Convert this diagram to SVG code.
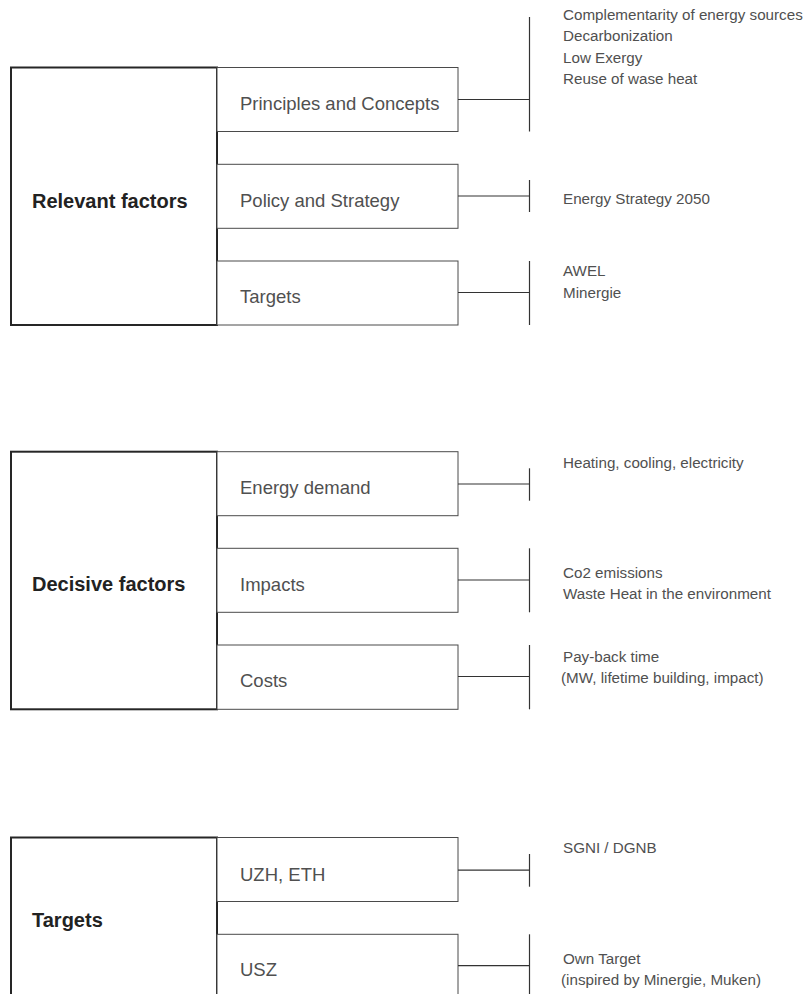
<svg xmlns="http://www.w3.org/2000/svg" width="811" height="994" viewBox="0 0 811 994">
<style>
.main{fill:#fff;stroke:#262626;stroke-width:2}
.sub{fill:#fff;stroke:#4a4a4a;stroke-width:1}
.conn line{stroke:#333;stroke-width:1.2}
.h{font-family:"Liberation Sans",Arial,sans-serif;font-weight:bold;font-size:20px;fill:#222}
.lbl{font-family:"Liberation Sans",Arial,sans-serif;font-size:18.5px;fill:#505050}
.note{font-family:"Liberation Sans",Arial,sans-serif;font-size:15.2px;fill:#505050}
</style>
<rect width="811" height="994" fill="#fff"/>

<!-- Section 1 -->
<g id="relevant-factors"><rect class="main" x="11" y="67.5" width="206" height="257.5"/><text class="h" x="32" y="207.7">Relevant factors</text></g>
<g id="principles"><rect class="sub" x="217" y="67.5" width="241" height="64"/><text class="lbl" x="240" y="110">Principles and Concepts</text></g>
<g id="policy"><rect class="sub" x="217" y="164.3" width="241" height="64"/><text class="lbl" x="240" y="206.5">Policy and Strategy</text></g>
<g id="targets1"><rect class="sub" x="217" y="261" width="241" height="64"/><text class="lbl" x="240" y="303">Targets</text></g>
<g id="principles-notes" class="note"><text x="563" y="19.5">Complementarity of energy sources</text><text x="563" y="41">Decarbonization</text><text x="563" y="62.5">Low Exergy</text><text x="563" y="84">Reuse of wase heat</text></g>
<g id="policy-notes" class="note"><text x="563" y="204.3">Energy Strategy 2050</text></g>
<g id="targets1-notes" class="note"><text x="563" y="276">AWEL</text><text x="563" y="297.7">Minergie</text></g>

<!-- Section 2 -->
<g id="decisive-factors"><rect class="main" x="11" y="451.7" width="206" height="257.6"/><text class="h" x="32" y="591">Decisive factors</text></g>
<g id="energy-demand"><rect class="sub" x="217" y="451.7" width="241" height="64"/><text class="lbl" x="240" y="494">Energy demand</text></g>
<g id="impacts"><rect class="sub" x="217" y="548.3" width="241" height="64"/><text class="lbl" x="240" y="590.8">Impacts</text></g>
<g id="costs"><rect class="sub" x="217" y="645" width="241" height="64.3"/><text class="lbl" x="240" y="687.3">Costs</text></g>
<g id="energy-demand-notes" class="note"><text x="563" y="468.3">Heating, cooling, electricity</text></g>
<g id="impacts-notes" class="note"><text x="563" y="577.7">Co2 emissions</text><text x="563" y="599">Waste Heat in the environment</text></g>
<g id="costs-notes" class="note"><text x="563" y="661.7">Pay-back time</text><text x="561" y="682.5">(MW, lifetime building, impact)</text></g>

<!-- Section 3 -->
<g id="targets"><rect class="main" x="11" y="837.5" width="206" height="260"/><text class="h" x="32" y="927.3">Targets</text></g>
<g id="uzh-eth"><rect class="sub" x="217" y="837.5" width="241" height="64"/><text class="lbl" x="240" y="880.5">UZH, ETH</text></g>
<g id="usz"><rect class="sub" x="217" y="934.3" width="241" height="64"/><text class="lbl" x="240" y="975.7">USZ</text></g>
<g id="uzh-eth-notes" class="note"><text x="563" y="853.3">SGNI / DGNB</text></g>
<g id="usz-notes" class="note"><text x="563" y="963.5">Own Target</text><text x="561" y="984.5">(inspired by Minergie, Muken)</text></g>

<g id="connectors" class="conn">
<line x1="458" y1="99.5" x2="529.5" y2="99.5"/><line x1="529.5" y1="17" x2="529.5" y2="131.5"/>
<line x1="458" y1="196" x2="529.5" y2="196"/><line x1="529.5" y1="180" x2="529.5" y2="212"/>
<line x1="458" y1="292.5" x2="529.5" y2="292.5"/><line x1="529.5" y1="261" x2="529.5" y2="325"/>
<line x1="458" y1="484" x2="529.5" y2="484"/><line x1="529.5" y1="468.3" x2="529.5" y2="500.7"/>
<line x1="458" y1="580" x2="529.5" y2="580"/><line x1="529.5" y1="548.3" x2="529.5" y2="612.3"/>
<line x1="458" y1="676.5" x2="529.5" y2="676.5"/><line x1="529.5" y1="645" x2="529.5" y2="709.3"/>
<line x1="458" y1="870.2" x2="529.5" y2="870.2"/><line x1="529.5" y1="854" x2="529.5" y2="886.7"/>
<line x1="458" y1="965.7" x2="529.5" y2="965.7"/><line x1="529.5" y1="934.3" x2="529.5" y2="994"/>
</g>
</svg>
